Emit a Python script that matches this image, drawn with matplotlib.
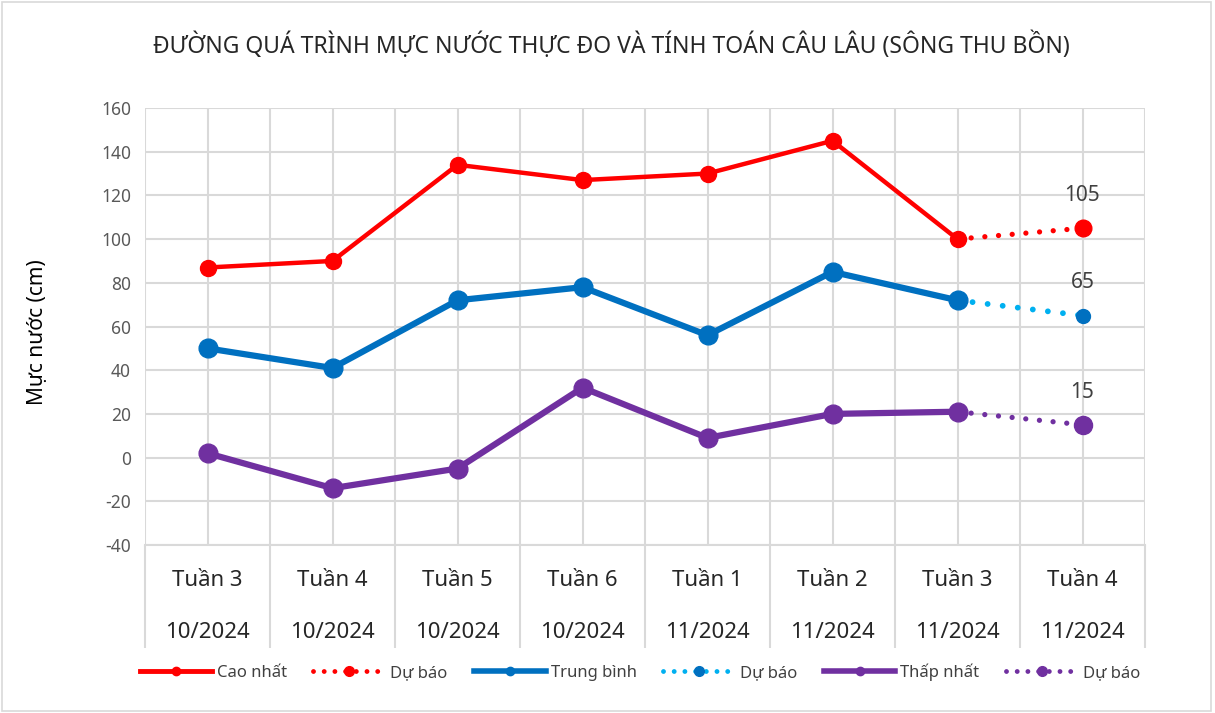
import matplotlib
matplotlib.use("Agg")
import matplotlib.pyplot as plt
from matplotlib.lines import Line2D
from matplotlib.patches import Rectangle
import matplotlib.transforms as mtransforms

plt.rcParams['font.family'] = ['Noto Sans', 'DejaVu Sans']
plt.rcParams['axes.unicode_minus'] = False

weeks = ["Tuần 3", "Tuần 4", "Tuần 5", "Tuần 6", "Tuần 1", "Tuần 2", "Tuần 3", "Tuần 4"]
months = ["10/2024", "10/2024", "10/2024", "10/2024", "11/2024", "11/2024", "11/2024", "11/2024"]

high = [87, 90, 134, 127, 130, 145, 100]
high_fc = [100, 105]
avg = [50, 41, 72, 78, 56, 85, 72]
avg_fc = [72, 65]
low = [2, -14, -5, 32, 9, 20, 21]
low_fc = [21, 15]

title = "ĐƯỜNG QUÁ TRÌNH MỰC NƯỚC THỰC ĐO VÀ TÍNH TOÁN CÂU LÂU (SÔNG THU BỒN)"
ylabel = "Mực nước (cm)"

RED = "#FF0000"
BLUE = "#0070C0"
LBLUE = "#00B0F0"
PURPLE = "#7030A0"
GRID = "#D9D9D9"
DOT = (0, (0.001, 2.6))

fig = plt.figure(figsize=(12.15, 7.13), dpi=100)
fig.patches.append(Rectangle((0.002, 0.003), 0.995, 0.994, transform=fig.transFigure,
                             fill=False, edgecolor="#D9D9D9", linewidth=1.2))
ax = fig.add_axes([145/1215, 1-545/713, 1000/1215, 437/713])

n = len(weeks)
xs = list(range(n))
xa = xs[:len(high)]
xf = xs[len(high)-1:]

ax.set_ylim(-40, 160)
ax.set_xlim(-0.5, n-0.5)
ax.set_yticks(range(-40, 161, 20))
ax.set_xticks(xs)
ax.set_xticks([i - 0.5 for i in range(n+1)], minor=True)
ax.grid(True, which="both", color=GRID, linewidth=1.5, zorder=0)
ax.set_axisbelow(True)
for s in ["top", "right", "left"]:
    ax.spines[s].set_visible(False)
ax.spines["bottom"].set_color(GRID)
ax.spines["bottom"].set_linewidth(1.5)
ax.tick_params(axis="y", length=0, labelsize=12.5, labelcolor="#595959", pad=10)
ax.tick_params(axis="x", which="major", length=0, labelbottom=False)
ax.tick_params(axis="x", which="minor", direction="out", length=74, width=1.5, color=GRID)

trans = mtransforms.blended_transform_factory(ax.transData, ax.transAxes)
for i in xs:
    ax.text(i, -0.082, weeks[i], transform=trans, ha="center", va="center",
            fontsize=16, color="#262626")
    ax.text(i, -0.200, months[i], transform=trans, ha="center", va="center",
            fontsize=16, color="#262626")

# series
ax.plot(xf, high_fc, color=RED, linestyle=DOT, dash_capstyle="round",
        linewidth=3.8, zorder=3)
ax.plot(xf[-1:], high_fc[-1:], "o", color=RED, markersize=12, zorder=4)
ax.plot(xa, high, color=RED, linewidth=3.2, marker="o", markersize=11.5, zorder=4)

ax.plot(xf, avg_fc, color=LBLUE, linestyle=DOT, dash_capstyle="round",
        linewidth=4.2, zorder=3)
ax.plot(xf[-1:], avg_fc[-1:], "o", color=BLUE, markersize=10, zorder=4)
ax.plot(xa, avg, color=BLUE, linewidth=4.5, marker="o", markersize=13.5, zorder=4)

ax.plot(xf, low_fc, color=PURPLE, linestyle=DOT, dash_capstyle="round",
        linewidth=3.8, zorder=3)
ax.plot(xf[-1:], low_fc[-1:], "o", color=PURPLE, markersize=13, zorder=4)
ax.plot(xa, low, color=PURPLE, linewidth=4.5, marker="o", markersize=13.5, zorder=4)

for v in (high_fc[-1], avg_fc[-1], low_fc[-1]):
    ax.annotate(f"{v}", (xf[-1], v), xytext=(0, 16), textcoords="offset points",
                ha="center", va="bottom", fontsize=15, color="#404040")

fig.text(611/1215, 1-45/713, title, ha="center", va="center", fontsize=16.5,
         color="#262626")
fig.text(38/1215, 1-332/713, ylabel, rotation=90, ha="center", va="center",
         fontsize=15, color="#000000")

handles = [
    Line2D([], [], color=RED, linewidth=3.5, marker="o", markersize=6),
    Line2D([], [], color=RED, linewidth=3.5, linestyle=(0, (0.001, 2.2)), dash_capstyle="round",
           marker="o", markersize=7),
    Line2D([], [], color=BLUE, linewidth=4, marker="o", markersize=6),
    Line2D([], [], color=LBLUE, linewidth=3.5, linestyle=(0, (0.001, 2.2)), dash_capstyle="round",
           marker="o", markersize=7, markerfacecolor=BLUE, markeredgecolor=BLUE),
    Line2D([], [], color=PURPLE, linewidth=4, marker="o", markersize=6),
    Line2D([], [], color=PURPLE, linewidth=3.5, linestyle=(0, (0.001, 2.2)), dash_capstyle="round",
           marker="o", markersize=7),
]
labels = ["Cao nhất", "Dự báo", "Trung bình", "Dự báo", "Thấp nhất", "Dự báo"]
fig.legend(handles, labels, loc="center", bbox_to_anchor=(640/1215, 1-672/713), ncol=6,
           frameon=False, fontsize=12, handlelength=4.3, columnspacing=1.6,
           handletextpad=0.3, labelcolor="#404040")

fig.savefig("out.png", dpi=100)
